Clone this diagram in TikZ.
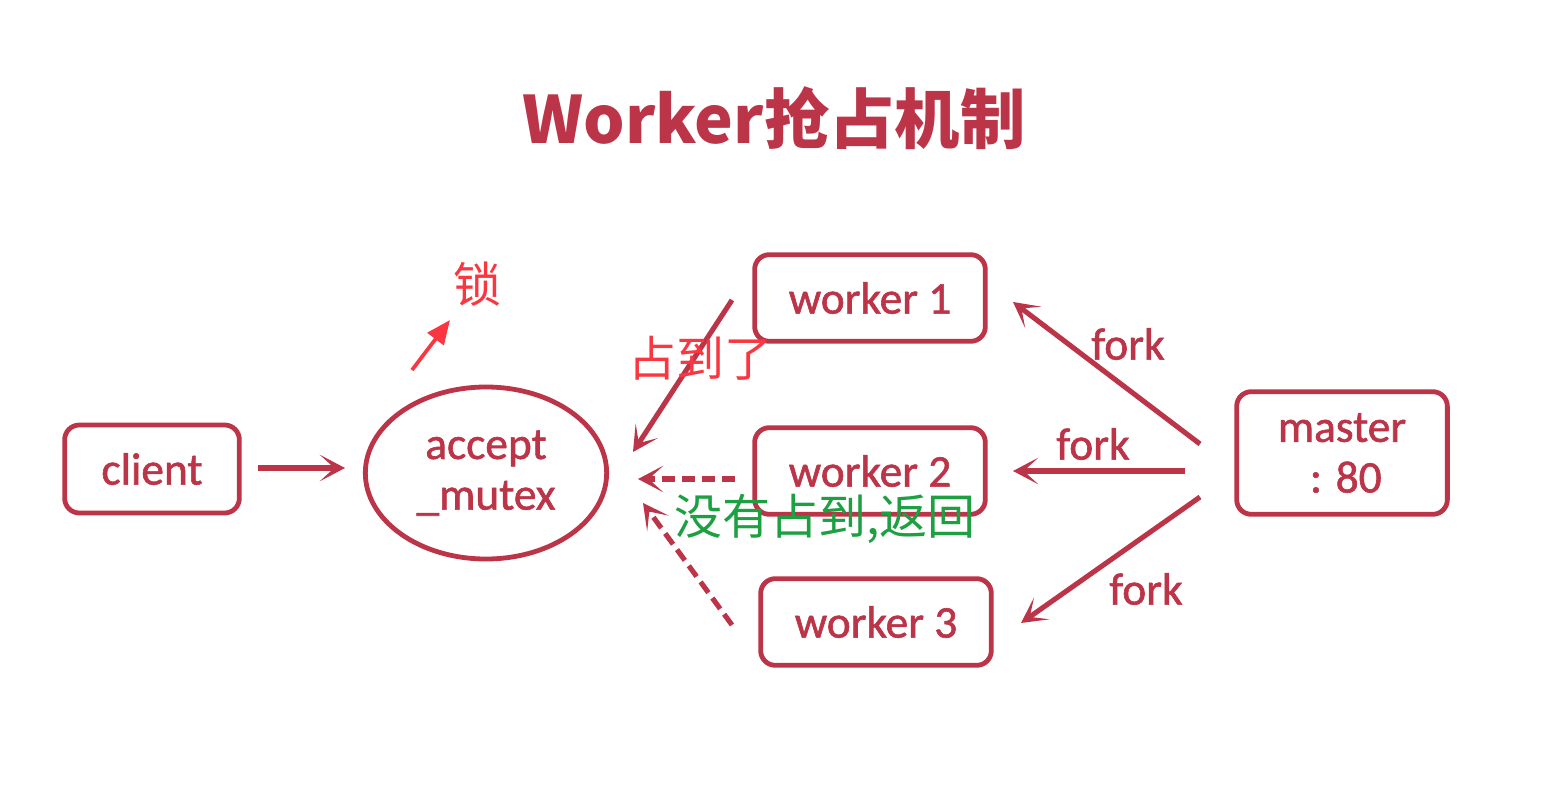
\documentclass[tikz,border=0pt]{standalone}
\usepackage{fontspec}
\usepackage{xcolor}
\usepackage{tikz}
\usetikzlibrary{arrows.meta,positioning,shapes.geometric}
\setmainfont{Carlito}[RawFeature={embolden=1.3}]
\newfontfamily\cjk{Noto Sans CJK SC}
\definecolor{boxred}{RGB}{188,52,72}
\definecolor{notered}{RGB}{250,55,65}
\definecolor{notegreen}{RGB}{28,160,66}

\begin{document}
\begin{tikzpicture}[x=0.75pt,y=-0.75pt,
  box/.style={draw=boxred,line width=3.6pt,rounded corners=11pt,text=boxred,font=\fontsize{34}{38}\selectfont,align=center},
  arr/.style={-{Stealth[length=19pt,width=20pt,inset=11pt]},line width=3.8pt,color=boxred},
  dasharr/.style={arr,dash pattern=on 10pt off 5pt},
  forklbl/.style={text=boxred,font=\fontsize{34}{38}\selectfont}]
  \useasboundingbox (0,0) rectangle (1542,806);

  \node[text=boxred,font=\cjk\bfseries\fontsize{49}{56}\selectfont] (title) at (774,118) {Worker抢占机制};

  \node[box,minimum width=131pt,minimum height=66pt] (client) at (152,469) {client};
  \node[draw=boxred,line width=3.6pt,ellipse,minimum width=181pt,minimum height=129pt,text=boxred,align=center,font=\fontsize{34}{38}\selectfont] (mutex) at (486,473) {accept\\\_mutex};
  \node[box,minimum width=173pt,minimum height=65pt] (w1) at (870,298) {worker 1};
  \node[box,minimum width=173pt,minimum height=65pt] (w2) at (870,471) {worker 2};
  \node[box,minimum width=173pt,minimum height=65pt] (w3) at (876,622) {worker 3};
  \node[box,minimum width=158pt,minimum height=92pt,inner sep=2pt] (master) at (1342,453) {master\\\,: 80};

  % free ends of the connectors
  \coordinate (cOut) at (258,468);
  \coordinate (mIn) at (345,468);
  \coordinate (w1Out) at (732,300);
  \coordinate (mTop) at (633,452);
  \coordinate (w2Out) at (735,479);
  \coordinate (mMid) at (638,479);
  \coordinate (w3Out) at (732,625);
  \coordinate (mLow) at (643,503);
  \coordinate (ms1) at (1200,444);
  \coordinate (w1In) at (1013,302);
  \coordinate (ms2) at (1185,471);
  \coordinate (w2In) at (1013,471);
  \coordinate (ms3) at (1200,497);
  \coordinate (w3In) at (1021,623);
  \coordinate (lkFrom) at (412,370);
  \coordinate (lkTo) at (450,320);

  \draw[arr] (cOut) -- (mIn);
  \draw[arr] (w1Out) -- (mTop);
  \draw[dasharr] (w2Out) -- (mMid);
  \draw[dasharr] (w3Out) -- (mLow);
  \draw[arr] (ms1) -- (w1In);
  \draw[arr] (ms2) -- (w2In);
  \draw[arr] (ms3) -- (w3In);
  \draw[-{Triangle[length=18pt,width=15pt]},line width=2.8pt,color=notered] (lkFrom) -- (lkTo);

  \node[forklbl] (f1) at (1128,344) {fork};
  \node[forklbl] (f2) at (1093,444) {fork};
  \node[forklbl] (f3) at (1146,589) {fork};

  \node[text=notered,font=\cjk\fontsize{36}{40}\selectfont] (lock) at (477,284) {锁};
  \node[text=notered,font=\cjk\fontsize{36}{40}\selectfont] (got) at (700,358) {占到了};
  \node[text=notegreen,font=\cjk\fontsize{36}{40}\selectfont] (miss) at (825,519) {没有占到,返回};
\end{tikzpicture}
\end{document}
